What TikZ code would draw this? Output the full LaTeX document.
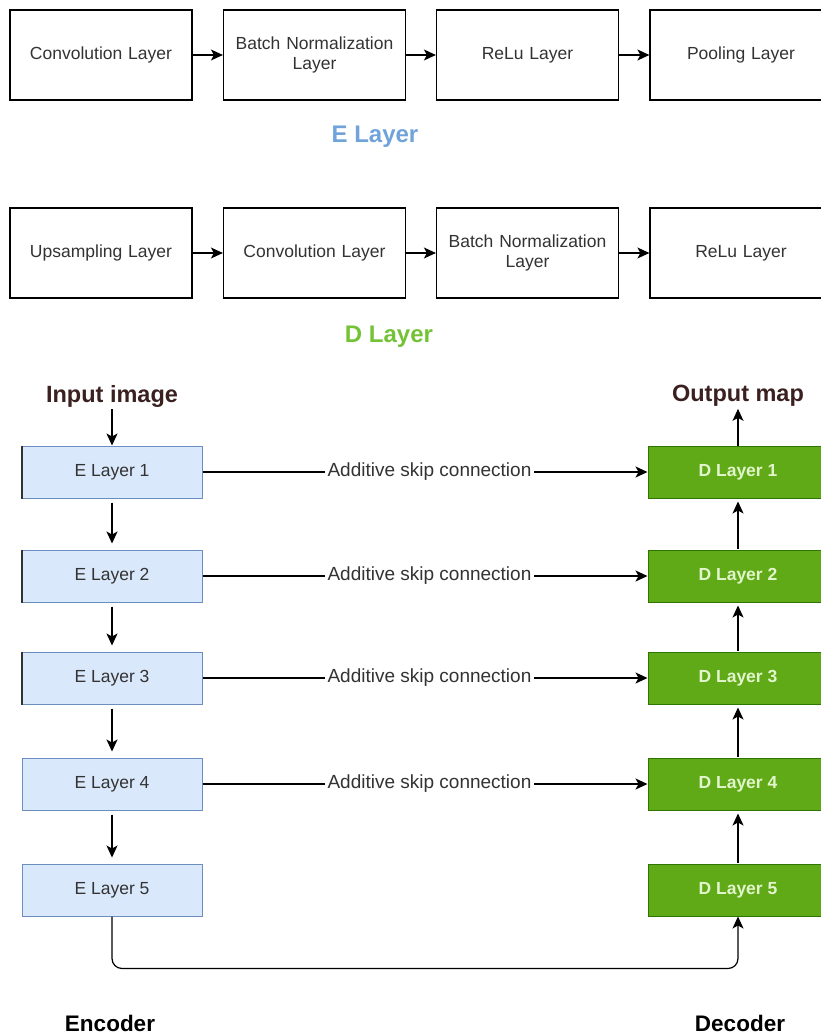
\documentclass[tikz,border=0pt]{standalone}
\usepackage{fontspec}
\setmainfont{Liberation Sans}
\usetikzlibrary{arrows.meta}

\definecolor{txt}{HTML}{333333}
\definecolor{efill}{HTML}{DAE8FC}
\definecolor{eline}{HTML}{6C8EBF}
\definecolor{dfill}{HTML}{60A917}
\definecolor{dline}{HTML}{2D7600}
\definecolor{dtext}{HTML}{E2F5CC}
\definecolor{etitle}{HTML}{6FA3DA}
\definecolor{dtitle}{HTML}{74C236}
\definecolor{heading}{HTML}{3B2020}

\tikzset{
  stagebox/.style={draw=black, line width=1.2pt, fill=white,
    minimum width=182pt, minimum height=90pt, text width=170pt,
    align=center, text=txt, font=\fontsize{17.5}{20}\selectfont},
  ebox/.style={draw=eline, line width=1pt, fill=efill,
    minimum width=180pt, minimum height=52pt, text=txt,
    font=\fontsize{17.5}{20}\selectfont},
  dbox/.style={draw=dline, line width=1pt, fill=dfill,
    minimum width=180pt, minimum height=52pt, text=dtext,
    font=\fontsize{17.5}{20}\selectfont\bfseries},
  arr/.style={line width=1.2pt, -{Stealth[length=12pt,width=11pt,inset=3pt]}},
  skiplbl/.style={fill=white, inner sep=3pt, text=txt,
    font=\fontsize{19}{22}\selectfont},
  title/.style={font=\fontsize{24}{28}\selectfont\bfseries},
  heading/.style={font=\fontsize{23.5}{27}\selectfont\bfseries, text=heading, inner sep=2pt},
  sidelbl/.style={font=\fontsize{22.5}{26}\selectfont\bfseries, text=black},
  leftmark/.style={line width=2pt, draw=black!80}
}

\begin{document}
\begin{tikzpicture}[x=1pt, y=-1pt]
\useasboundingbox (0,0) rectangle (821,1034);
\clip (0,0) rectangle (821,1034);

% encoder stage
\node[stagebox] (ec) at (101,55) {Convolution Layer};
\node[stagebox] (eb) at (314.5,55) {Batch Normalization\\Layer};
\node[stagebox] (er) at (527.5,55) {ReLu Layer};
\node[stagebox] (ep) at (741,55) {Pooling Layer};
\draw[arr] (ec) -- (eb);
\draw[arr] (eb) -- (er);
\draw[arr] (er) -- (ep);
\node[title, text=etitle] (etitle) at (375,137) {E Layer};

% decoder stage
\node[stagebox] (du) at (101,253) {Upsampling Layer};
\node[stagebox] (dc) at (314.5,253) {Convolution Layer};
\node[stagebox] (db) at (527.5,253) {Batch Normalization\\Layer};
\node[stagebox] (dr) at (741,253) {ReLu Layer};
\draw[arr] (du) -- (dc);
\draw[arr] (dc) -- (db);
\draw[arr] (db) -- (dr);
\node[title, text=dtitle] (dtitle) at (389,337) {D Layer};

% network
\node[heading] (inp) at (112,396) {Input image};
\node[heading] (out) at (738,396) {Output map};

\foreach \i/\y in {1/472, 2/576, 3/678, 4/784, 5/890} {
  \node[ebox] (E\i) at (112,\y) {E Layer \i};
  \node[dbox] (D\i) at (738,\y) {D Layer \i};
}
\foreach \i in {1,2,3} {
  \draw[leftmark] (E\i.north west) -- (E\i.south west);
}

\draw[arr] (inp.south) -- (E1.north);
\draw[arr] (D1.north) -- (out.south);

\foreach \a/\b in {1/2, 2/3, 3/4, 4/5} {
  \draw[arr, shorten <=4pt, shorten >=6pt] (E\a.south) -- (E\b.north);
  \draw[arr, shorten <=1pt, shorten >=3pt] (D\b.north) -- (D\a.south);
}

\foreach \i in {1,2,3,4} {
  \draw[arr] (E\i.east) -- node[skiplbl, pos=0.51] {Additive skip connection} (D\i.west);
}

\draw[arr, rounded corners=10pt] (E5.south) -- ++(0,52) -| (D5.south);

\node[sidelbl] (enc) at (110,1023) {Encoder};
\node[sidelbl] (dec) at (740,1023) {Decoder};
\end{tikzpicture}
\end{document}
